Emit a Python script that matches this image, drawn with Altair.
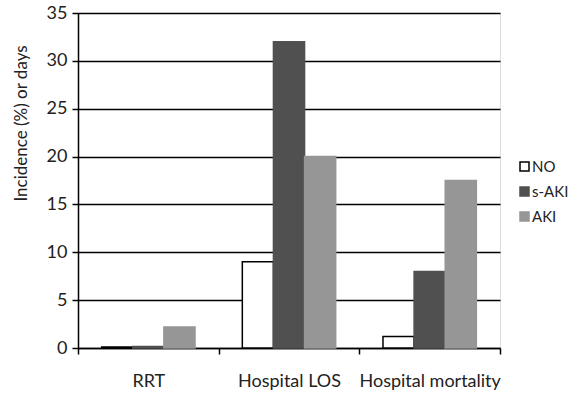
import altair as alt
import pandas as pd

categories = ["RRT", "Hospital LOS", "Hospital mortality"]
groups = ["NO", "s-AKI", "AKI"]
no_vals = [0.1, 9.0, 1.2]
saki_vals = [0.15, 32.0, 8.0]
aki_vals = [2.2, 20.0, 17.5]

rows = []
for i, c in enumerate(categories):
    rows.append({"cat": c, "grp": "NO", "val": no_vals[i]})
    rows.append({"cat": c, "grp": "s-AKI", "val": saki_vals[i]})
    rows.append({"cat": c, "grp": "AKI", "val": aki_vals[i]})
df = pd.DataFrame(rows)

FONT = "Lato"

chart = alt.Chart(df).mark_bar(strokeWidth=1.5).encode(
    x=alt.X("cat:N", sort=categories, title=None,
            scale=alt.Scale(paddingInner=0, paddingOuter=0),
            axis=alt.Axis(labelAngle=0, tickBand="extent", tickSize=6, tickColor="black",
                          tickWidth=1.5, domainColor="black", domainWidth=1.5,
                          labelFontSize=18, labelColor="#222", labelPadding=18,
                          labelFont=FONT, grid=False)),
    xOffset=alt.XOffset("grp:N", sort=groups,
                        scale=alt.Scale(paddingOuter=0.76, paddingInner=0)),
    y=alt.Y("val:Q", title="Incidence (%) or days",
            scale=alt.Scale(domain=[0, 35], nice=False),
            axis=alt.Axis(values=[0, 5, 10, 15, 20, 25, 30, 35], grid=True,
                          gridColor="black", gridWidth=1.5, gridOpacity=1,
                          tickColor="black", tickSize=6, tickWidth=1.5,
                          domainColor="black", domainWidth=1.5,
                          labelFontSize=18, labelColor="#222", labelFont=FONT,
                          labelPadding=5,
                          titleFontSize=17, titleFontWeight="normal", titleColor="#222",
                          titleFont=FONT, titleX=-57, titleY=110, titleAlign="center",
                          titleBaseline="middle")),
    fill=alt.Fill("grp:N", sort=groups, title=None,
                  scale=alt.Scale(domain=groups, range=["white", "#505050", "#969696"]),
                  legend=alt.Legend(orient="none", legendX=439, legendY=146,
                                    symbolType="square", symbolSize=81,
                                    labelFontSize=15, labelFont=FONT, labelColor="#222",
                                    labelOffset=0, labelLimit=200, rowPadding=9,
                                    symbolStrokeWidth=1.5)),
    stroke=alt.Stroke("grp:N", sort=groups, title=None,
                      scale=alt.Scale(domain=groups, range=["black", "#505050", "#969696"])),
).properties(
    width=422, height=335,
    autosize=alt.AutoSizeParams(type="none"),
    padding={"left": 78, "top": 13, "right": 68, "bottom": 45},
).configure_view(stroke=None).configure(background="white")

chart.save("out.html", embed_options={"renderer": "svg", "actions": False})
